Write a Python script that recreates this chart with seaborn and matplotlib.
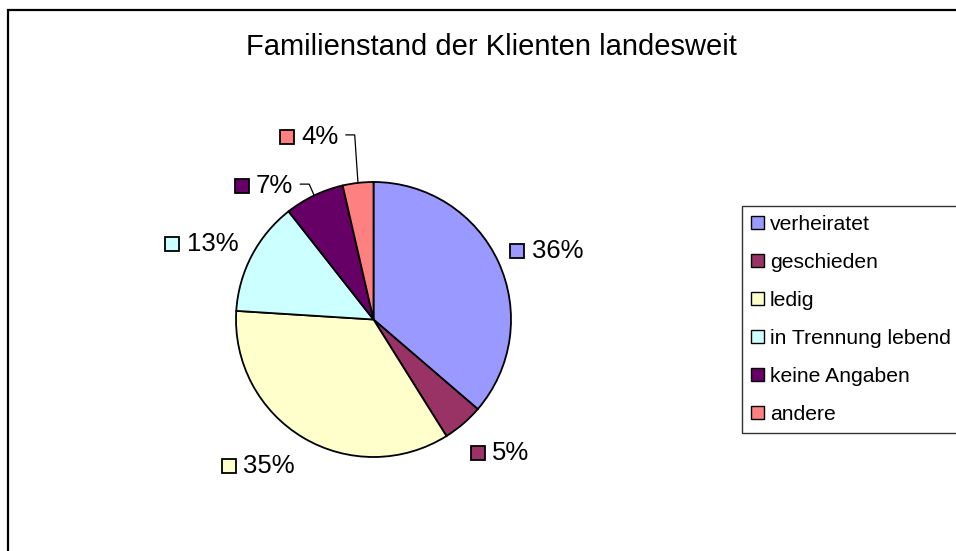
import matplotlib.pyplot as plt
import matplotlib.patches as mpatches
from matplotlib.lines import Line2D
import numpy as np
import seaborn as sns

# Data (shares in percent)
categories = ["verheiratet", "geschieden", "ledig", "in Trennung lebend", "keine Angaben", "andere"]
shares = [36.3, 4.8, 34.9, 13.4, 7.0, 3.6]
colors = ["#9999FF", "#993366", "#FFFFCC", "#CCFFFF", "#660066", "#FF8080"]
title = "Familienstand der Klienten landesweit"

# Label anchors (marker centre, in pie-radius units) and which get a leader line
label_pos = [(1.047, 0.496), (0.759, -0.971), (-1.054, -1.066),
             (-1.464, 0.547), (-0.960, 0.970), (-0.629, 1.328)]
leader = [False, False, False, False, True, True]

sns.set_theme(style="white")
plt.rcParams["font.family"] = ["Liberation Sans", "DejaVu Sans"]
plt.rcParams["text.color"] = "black"

W, H = 956, 551
fig = plt.figure(figsize=(W / 100, H / 100), dpi=100)
fig.patch.set_facecolor("white")

# Outer chart border (runs off the right and bottom edge)
fig.patches.append(mpatches.Rectangle(
    (8 / W, -0.05), 1.1, 1 - 10 / H + 0.05, transform=fig.transFigure,
    fill=False, edgecolor="black", linewidth=1.6, clip_on=False))

fig.text(491 / W, 1 - 47 / H, title, ha="center", va="center", fontsize=21, color="black")

# Pie axes: centre (373.5, 319.5) px, radius 137.5 px
cx, cy, r = 373.5, 319.5, 137.5
ax = fig.add_axes([(cx - r) / W, (H - cy - r) / H, 2 * r / W, 2 * r / H])
ax.set_axis_off()

wedges, _ = ax.pie(shares, colors=colors, startangle=90, counterclock=False,
                   radius=1, wedgeprops=dict(edgecolor="black", linewidth=1.3))
ax.set_xlim(-1, 1)
ax.set_ylim(-1, 1)

texts = []
for i, (val, col) in enumerate(zip(shares, colors)):
    mx, my = label_pos[i]
    ax.plot([mx], [my], marker="s", markersize=10, markerfacecolor=col,
            markeredgecolor="black", markeredgewidth=1.3, clip_on=False)
    t = ax.annotate(f"{val:.0f}%", xy=(mx, my), xytext=(10.4, 0),
                    textcoords="offset points", ha="left", va="center",
                    fontsize=18.5, color="black", annotation_clip=False)
    texts.append(t)

fig.canvas.draw()
renderer = fig.canvas.get_renderer()
inv = ax.transData.inverted()
for i, w in enumerate(wedges):
    if not leader[i]:
        continue
    bb = texts[i].get_window_extent(renderer)
    ymid = (bb.y0 + bb.y1) / 2 + 2
    x0, y0 = inv.transform((bb.x1 + 7, ymid))
    x1, _ = inv.transform((bb.x1 + 16, ymid))
    ang = np.deg2rad((w.theta1 + w.theta2) / 2)
    ax.add_line(Line2D([x0, x1, np.cos(ang)], [y0, y0, np.sin(ang)],
                       color="black", linewidth=0.9, clip_on=False))

handles = [mpatches.Patch(facecolor=c, edgecolor="black", linewidth=1.0) for c in colors]
leg = fig.legend(handles, categories, loc="upper left",
                 bbox_to_anchor=(742 / W, 1 - 206 / H), fontsize=15.2,
                 frameon=True, fancybox=False, borderaxespad=0,
                 handlelength=0.6, handleheight=0.6, handletextpad=0.3,
                 labelspacing=0.9, borderpad=0.42)
leg.get_frame().set_edgecolor("black")
leg.get_frame().set_linewidth(1.0)
for txt in leg.get_texts():
    txt.set_color("black")

fig.savefig("out.png", dpi=100, facecolor="white")
